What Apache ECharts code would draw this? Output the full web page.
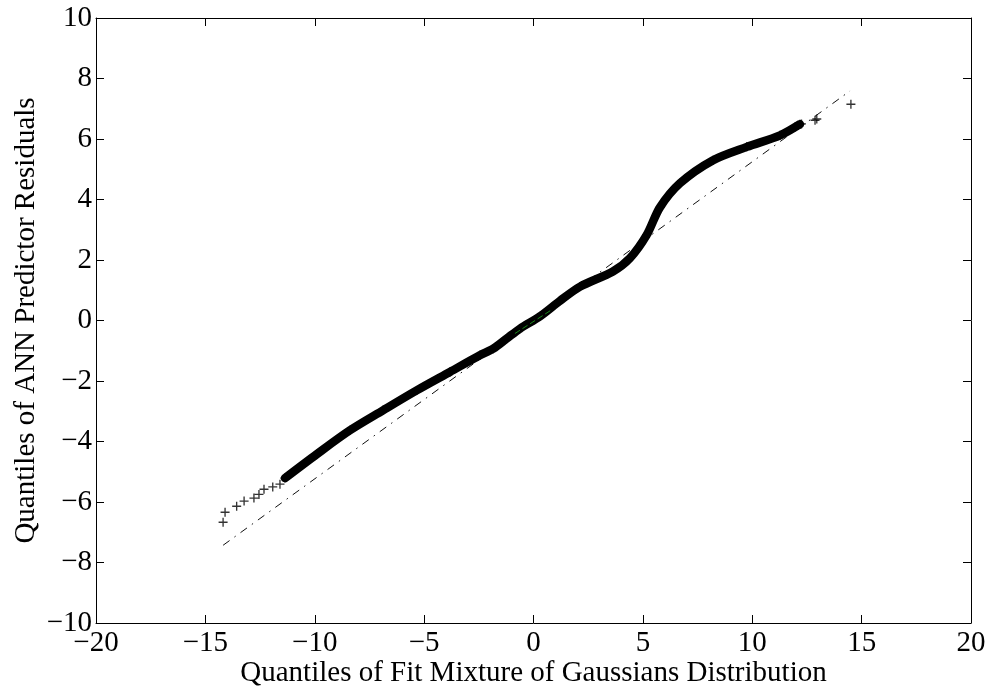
<!DOCTYPE html>
<html>
<head>
<meta charset="utf-8">
<title>QQ plot of ANN predictor residuals</title>
<script src="https://cdn.jsdelivr.net/npm/echarts@6/dist/echarts.min.js"></script>
<style>
  html, body { margin: 0; padding: 0; background: #fff; }
  #chart { width: 988px; height: 688px; }
</style>
</head>
<body>
<div id="chart"></div>
<script>
// Sample quantiles along the dense body of the QQ curve (x = mixture quantile, y = residual quantile)
const bodyX = [-11.36, -9.91, -8.39, -6.88, -5.34, -3.82, -2.45, -1.84, -1.23, -0.62, 0.30, 1.21, 2.13, 3.63, 4.41, 5.17, 5.78, 6.70, 8.21, 9.75, 11.27, 12.18];
const bodyY = [-5.21, -4.42, -3.63, -2.97, -2.31, -1.70, -1.15, -0.93, -0.60, -0.27, 0.14, 0.65, 1.12, 1.62, 2.06, 2.82, 3.74, 4.54, 5.30, 5.74, 6.12, 6.49];

// Individually visible quantile points in the two tails
const tailX = [-14.19, -14.10, -13.57, -13.23, -12.78, -12.55, -12.32, -11.92, -11.59, 11.95, 12.10, 12.25, 12.87, 12.95, 14.51];
const tailY = [-6.67, -6.34, -6.14, -5.97, -5.87, -5.75, -5.58, -5.50, -5.41, 6.40, 6.45, 6.50, 6.62, 6.66, 7.15];

// Reference line through the quartiles, spanning the data range
const refX = [-14.19, 14.47];
const refY = [-7.43, 7.59];

// Short green segment near the origin
const greenX = [-0.85, 0.78];
const greenY = [-0.43, 0.33];

// Axis ranges and tick steps
const xRange = [-20, 20], xStep = 5;
const yRange = [-10, 10], yStep = 2;

const FONT = '"Liberation Serif", "DejaVu Serif", serif';
const pairs = (xs, ys) => xs.map((x, i) => [x, ys[i]]);
const minus = v => String(v).replace('-', '\u2212');
const PLUS = 'path://M-0.75,-5H0.75V-0.75H5V0.75H0.75V5H-0.75V0.75H-5V-0.75H-0.75Z';

const baseAxis = {
  type: 'value',
  axisLine: { show: true, onZero: false, lineStyle: { color: '#000', width: 1 } },
  axisTick: { show: true, inside: true, length: 8, lineStyle: { color: '#000', width: 1 } },
  splitLine: { show: false }
};
const labelStyle = { color: '#000', fontFamily: FONT, fontSize: 29 };

const chart = echarts.init(document.getElementById('chart'), null, { renderer: 'canvas' });
chart.setOption({
  backgroundColor: '#fff',
  animation: false,
  grid: { left: 96, right: 17, top: 18, bottom: 65, containLabel: false, outerBoundsMode: 'none' },
  xAxis: [
    Object.assign({}, baseAxis, {
      position: 'bottom', min: xRange[0], max: xRange[1], interval: xStep,
      axisLabel: Object.assign({ margin: 6, formatter: minus }, labelStyle),
      name: 'Quantiles of Fit Mixture of Gaussians Distribution',
      nameLocation: 'middle', nameGap: 36, nameMoveOverlap: false,
      nameTextStyle: labelStyle
    }),
    Object.assign({}, baseAxis, {
      position: 'top', min: xRange[0], max: xRange[1], interval: xStep,
      axisLabel: { show: false }
    })
  ],
  yAxis: [
    Object.assign({}, baseAxis, {
      position: 'left', min: yRange[0], max: yRange[1], interval: yStep,
      axisLabel: Object.assign({ margin: 4, formatter: minus }, labelStyle),
      name: 'Quantiles of ANN Predictor Residuals',
      nameLocation: 'middle', nameGap: 55, nameRotate: 90, nameMoveOverlap: false,
      nameTextStyle: labelStyle
    }),
    Object.assign({}, baseAxis, {
      position: 'right', min: yRange[0], max: yRange[1], interval: yStep,
      axisLabel: { show: false }
    })
  ],
  series: [
    {
      name: 'reference',
      type: 'line',
      data: pairs(refX, refY),
      symbol: 'none',
      lineStyle: { color: '#111', width: 1, type: [8, 6, 1.5, 6] },
      z: 2
    },
    {
      name: 'body',
      type: 'line',
      data: pairs(bodyX, bodyY),
      symbol: PLUS,
      symbolSize: 9,
      showSymbol: true,
      itemStyle: { color: '#000' },
      smooth: 0.3,
      lineStyle: { color: '#000', width: 8.5, cap: 'round', join: 'round' },
      z: 3
    },
    {
      name: 'tails',
      type: 'scatter',
      data: pairs(tailX, tailY),
      symbol: PLUS,
      symbolSize: 9,
      itemStyle: { color: '#000' },
      z: 4
    },
    {
      name: 'center',
      type: 'line',
      data: pairs(greenX, greenY),
      symbol: 'none',
      lineStyle: { color: '#1a8a1a', width: 1, type: [6, 3] },
      z: 5
    }
  ]
});
</script>
</body>
</html>
